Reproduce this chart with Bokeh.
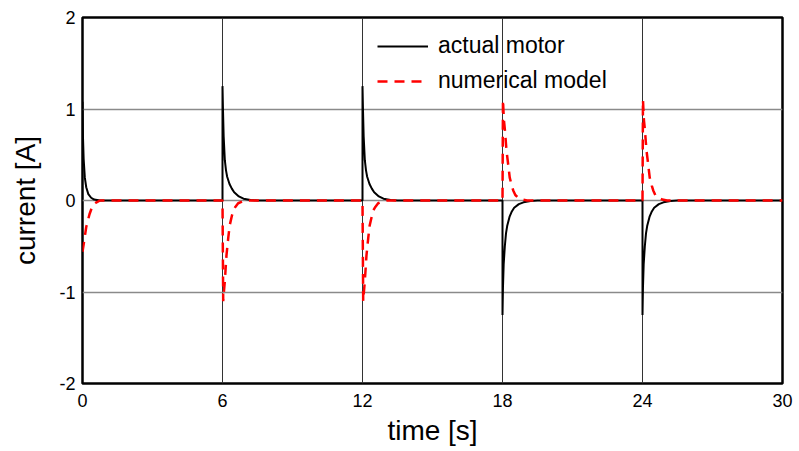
from bokeh.plotting import figure
from bokeh.models import Legend, LegendItem, FixedTicker, Range1d
from bokeh.embed import file_html
from bokeh.resources import INLINE

# ---- data ----
motor_t = [0.0, 0.02, 0.05, 0.1, 0.16, 0.25, 0.37, 0.5, 0.75,
           6.0, 6.0, 6.02, 6.05, 6.1, 6.15, 6.2, 6.3, 6.4, 6.5, 6.7, 6.9, 7.2, 7.5,
           12.0, 12.0, 12.02, 12.05, 12.1, 12.15, 12.2, 12.3, 12.4, 12.5, 12.7, 12.9, 13.2, 13.5,
           18.0, 18.0, 18.02, 18.05, 18.1, 18.15, 18.2, 18.3, 18.4, 18.5, 18.7, 18.9, 19.2, 19.5,
           24.0, 24.0, 24.02, 24.05, 24.1, 24.15, 24.2, 24.3, 24.4, 24.5, 24.7, 24.9, 25.2, 25.5,
           30.0]
motor_i = [1.08, 0.7, 0.45, 0.25, 0.145, 0.07, 0.03, 0.01, 0.0,
           0.0, 1.25, 1.0, 0.7, 0.44, 0.33, 0.26, 0.18, 0.13, 0.09, 0.045, 0.02, 0.005, 0.0,
           0.0, 1.25, 1.0, 0.7, 0.44, 0.33, 0.26, 0.18, 0.13, 0.09, 0.045, 0.02, 0.005, 0.0,
           0.0, -1.25, -0.95, -0.7, -0.5, -0.36, -0.28, -0.18, -0.12, -0.08, -0.04, -0.02, -0.005, 0.0,
           0.0, -1.25, -0.95, -0.7, -0.5, -0.36, -0.28, -0.18, -0.12, -0.08, -0.04, -0.02, -0.005, 0.0,
           0.0]

model_t = [0.0, 0.05, 0.16, 0.3, 0.44, 0.6, 0.75,
           6.0, 6.03, 6.06, 6.1, 6.17, 6.25, 6.31, 6.4, 6.46, 6.55, 6.67, 6.85, 7.05,
           12.0, 12.03, 12.06, 12.1, 12.17, 12.25, 12.31, 12.4, 12.46, 12.55, 12.67, 12.85, 13.05,
           18.0, 18.02, 18.06, 18.1, 18.17, 18.25, 18.31, 18.4, 18.46, 18.55, 18.67, 18.85, 19.05,
           24.0, 24.02, 24.06, 24.1, 24.17, 24.25, 24.31, 24.4, 24.46, 24.55, 24.67, 24.85, 25.05,
           30.0]
model_i = [-0.56, -0.48, -0.29, -0.15, -0.05, -0.02, 0.0,
           0.0, -1.1, -1.0, -0.88, -0.6, -0.4, -0.27, -0.17, -0.11, -0.07, -0.03, -0.01, 0.0,
           0.0, -1.1, -1.0, -0.88, -0.6, -0.4, -0.27, -0.17, -0.11, -0.07, -0.03, -0.01, 0.0,
           0.0, 1.1, 0.88, 0.78, 0.55, 0.38, 0.25, 0.16, 0.11, 0.06, 0.03, 0.01, 0.0,
           0.0, 1.1, 0.88, 0.78, 0.55, 0.38, 0.25, 0.16, 0.11, 0.06, 0.03, 0.01, 0.0,
           0.0]

x_ticks = [0, 6, 12, 18, 24, 30]
y_ticks = [-2, -1, 0, 1, 2]
y_tick_labels = ["-2", "-1", "0", "1", "2"]
series_labels = ["actual motor", "numerical model"]

FONT = "'Liberation Sans', Arial, sans-serif"

p = figure(width=799, height=451, output_backend="svg", toolbar_location=None,
           x_range=Range1d(0, 30), y_range=Range1d(-2, 2),
           min_border_left=82, min_border_right=17, min_border_top=17, min_border_bottom=68)
p.background_fill_color = "white"
p.border_fill_color = "white"
p.outline_line_color = "black"
p.outline_line_width = 2.5

p.xaxis.ticker = FixedTicker(ticks=x_ticks)
p.yaxis.ticker = FixedTicker(ticks=y_ticks)
p.yaxis.major_label_overrides = {t: s for t, s in zip(y_ticks, y_tick_labels)}
p.xaxis.minor_tick_line_color = None
p.yaxis.minor_tick_line_color = None
for ax in (p.xaxis[0], p.yaxis[0]):
    ax.axis_line_color = None
    ax.major_tick_in = 0
    ax.major_tick_out = 0
    ax.major_label_text_font = FONT
    ax.major_label_text_font_size = "18px"
    ax.major_label_text_color = "black"
    ax.axis_label_text_font = FONT
    ax.axis_label_text_font_size = "28px"
    ax.axis_label_text_font_style = "normal"
    ax.axis_label_text_color = "black"

p.xaxis.axis_label = "time [s]"
p.yaxis.axis_label = "current [A]"
p.xaxis.major_label_standoff = 10
p.yaxis.major_label_standoff = 7
p.xaxis.axis_label_standoff = 5
p.yaxis.axis_label_standoff = 15

p.xgrid.grid_line_color = "#333333"
p.xgrid.grid_line_width = 1
p.ygrid.grid_line_color = "#8a8a8a"
p.ygrid.grid_line_width = 1.5

r1 = p.line(motor_t, motor_i, line_color="black", line_width=2)
r2 = p.line(model_t, model_i, line_color="#ff0000", line_width=2.5, line_dash="10 7")

legend = Legend(items=[LegendItem(label=series_labels[0], renderers=[r1]),
                       LegendItem(label=series_labels[1], renderers=[r2])],
                location=(295, 289), orientation="vertical",
                border_line_color=None, background_fill_alpha=0,
                padding=0, margin=0, spacing=8,
                glyph_width=51, glyph_height=24, label_height=24,
                label_standoff=10,
                label_text_font=FONT, label_text_font_size="23px",
                label_text_color="black")
p.add_layout(legend, "center")

open("out.html", "w").write(file_html(p, INLINE))
